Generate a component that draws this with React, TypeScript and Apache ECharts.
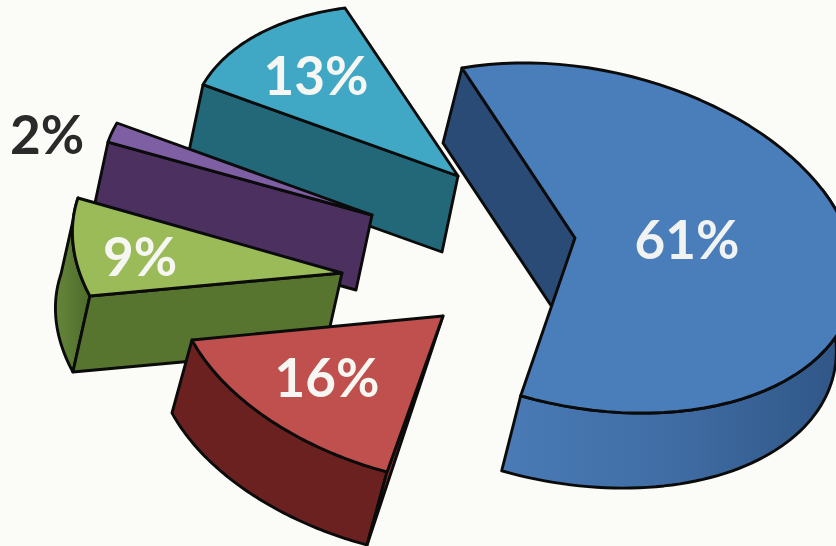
import React, { useEffect, useRef } from "react";
import * as echarts from "echarts";

// Data, in drawing order (back to front)
const sliceNames = ["Teal", "Purple", "Green", "Red", "Blue"];
const sliceValues = [13, 2, 9, 16, 61];

// Layout of each exploded slice (not data): apex, ellipse centre, ellipse axes, extrusion
const apexes = [[458, 176], [372, 215], [342, 273], [443, 316], [575, 238]];
const centres = [[458, 176], [372, 215], [342, 273], [443, 316], [583, 238]];
const axesA = [[-113, -168], [-255, -92], [-264, -75], [-251, 24], [-121, -170]];
const axesB = [[-243.7, 32.5], [-87.8, 146], [-54.5, 161], [93, 169.5], [244, -42]];
const depths = [[-16, 76], [-16, 75], [-17, 76], [-20, 73], [-19, 75]];
const labelPositions = [[316, 74], [47, 133], [140, 255], [327, 376], [687, 238]];

// Which walls are visible: "end" / "start" flat cut face, "tri" tapered face; curved from fraction
const flatWalls = ["end", "end", "end", "tri", "start"];
const curvedFrom = [null, null, 0, 0, 0.4];

// Styles
const topColors = ["#40a8c4", "#7e5fa4", "#9bbb59", "#c0504d", "#4a7ebb"];
const flatColors = ["#226878", "#4c3160", "#587530", "#96332f", "#2b4b77"];
const curvedStops = [
  null,
  null,
  ["#66853b", "#4d6c29"],
  ["#6a2120", "#6a2120"],
  ["#4a7bb6", "#3f6ca3", "#2e5484"],
];
const labelColors = ["#f6f7f2", "#2a2a2a", "#f6f7f2", "#f6f7f2", "#f1f3f3"];
const outline = "#0b0b0b";

const renderSlice = (params: any, api: any) => {
  const i = params.dataIndex;
  const value = api.value(0) as number;
  const sweep = (value / 100) * Math.PI * 2;
  const apex = apexes[i];
  const c = centres[i];
  const a = axesA[i];
  const b = axesB[i];
  const d = depths[i];
  const at = (t: number) => [
    c[0] + a[0] * Math.cos(t) + b[0] * Math.sin(t),
    c[1] + a[1] * Math.cos(t) + b[1] * Math.sin(t),
  ];
  const shift = (p: number[]) => [p[0] + d[0], p[1] + d[1]];
  const px = (pts: number[][]) => pts.map((p) => api.coord(p));
  const arc = (from: number, to: number) => {
    const out: number[][] = [];
    const n = 72;
    for (let k = 0; k <= n; k++) out.push(at(from + ((to - from) * k) / n));
    return out;
  };
  const stroke = { stroke: outline, lineWidth: 2.9, lineJoin: "round" };
  const children: any[] = [];

  const from = curvedFrom[i];
  if (from !== null) {
    const top = arc(sweep * from, sweep);
    const stops = curvedStops[i] as string[];
    const fill = new echarts.graphic.LinearGradient(
      0, 0, 1, 0,
      stops.map((color, k) => ({ offset: k / (stops.length - 1), color }))
    );
    children.push({
      type: "polygon",
      shape: { points: px([...top, ...top.slice().reverse().map(shift)]) },
      style: { fill, ...stroke },
    });
  }

  const p0 = at(0);
  const p1 = at(sweep);
  const kind = flatWalls[i];
  const edge = kind === "start" ? p0 : p1;
  const wall =
    kind === "tri"
      ? [apex, edge, shift(edge)]
      : [apex, edge, shift(edge), shift(apex)];
  children.push({
    type: "polygon",
    shape: { points: px(wall) },
    style: { fill: flatColors[i], ...stroke },
  });

  children.push({
    type: "polygon",
    shape: { points: px([apex, ...arc(0, sweep)]) },
    style: { fill: topColors[i], ...stroke },
  });

  const lp = api.coord(labelPositions[i]);
  children.push({
    type: "text",
    style: {
      x: lp[0],
      y: lp[1],
      text: `${value}%`,
      fill: labelColors[i],
      font: "bold 53px Lato, 'Open Sans', sans-serif",
      align: "center",
      verticalAlign: "middle",
    },
  });
  return { type: "group", children };
};

export default function App() {
  const ref = useRef<HTMLDivElement>(null);
  useEffect(() => {
    const chart = echarts.init(ref.current!, undefined, { renderer: "svg" });
    chart.setOption({
      animation: false,
      backgroundColor: "#fbfbf8",
      grid: { left: 0, right: 0, top: 0, bottom: 0 },
      xAxis: { type: "value", min: 0, max: 836, show: false },
      yAxis: { type: "value", min: 0, max: 546, inverse: true, show: false },
      series: [
        {
          type: "custom",
          coordinateSystem: "cartesian2d",
          clip: false,
          renderItem: renderSlice,
          encode: { x: 0, y: 1 },
          data: sliceValues.map((v, i) => ({ name: sliceNames[i], value: [v, i] })),
        },
      ],
    });
    return () => chart.dispose();
  }, []);
  return (
    <div
      ref={ref}
      style={{ position: "fixed", left: 0, top: 0, width: 836, height: 546 }}
    />
  );
}
